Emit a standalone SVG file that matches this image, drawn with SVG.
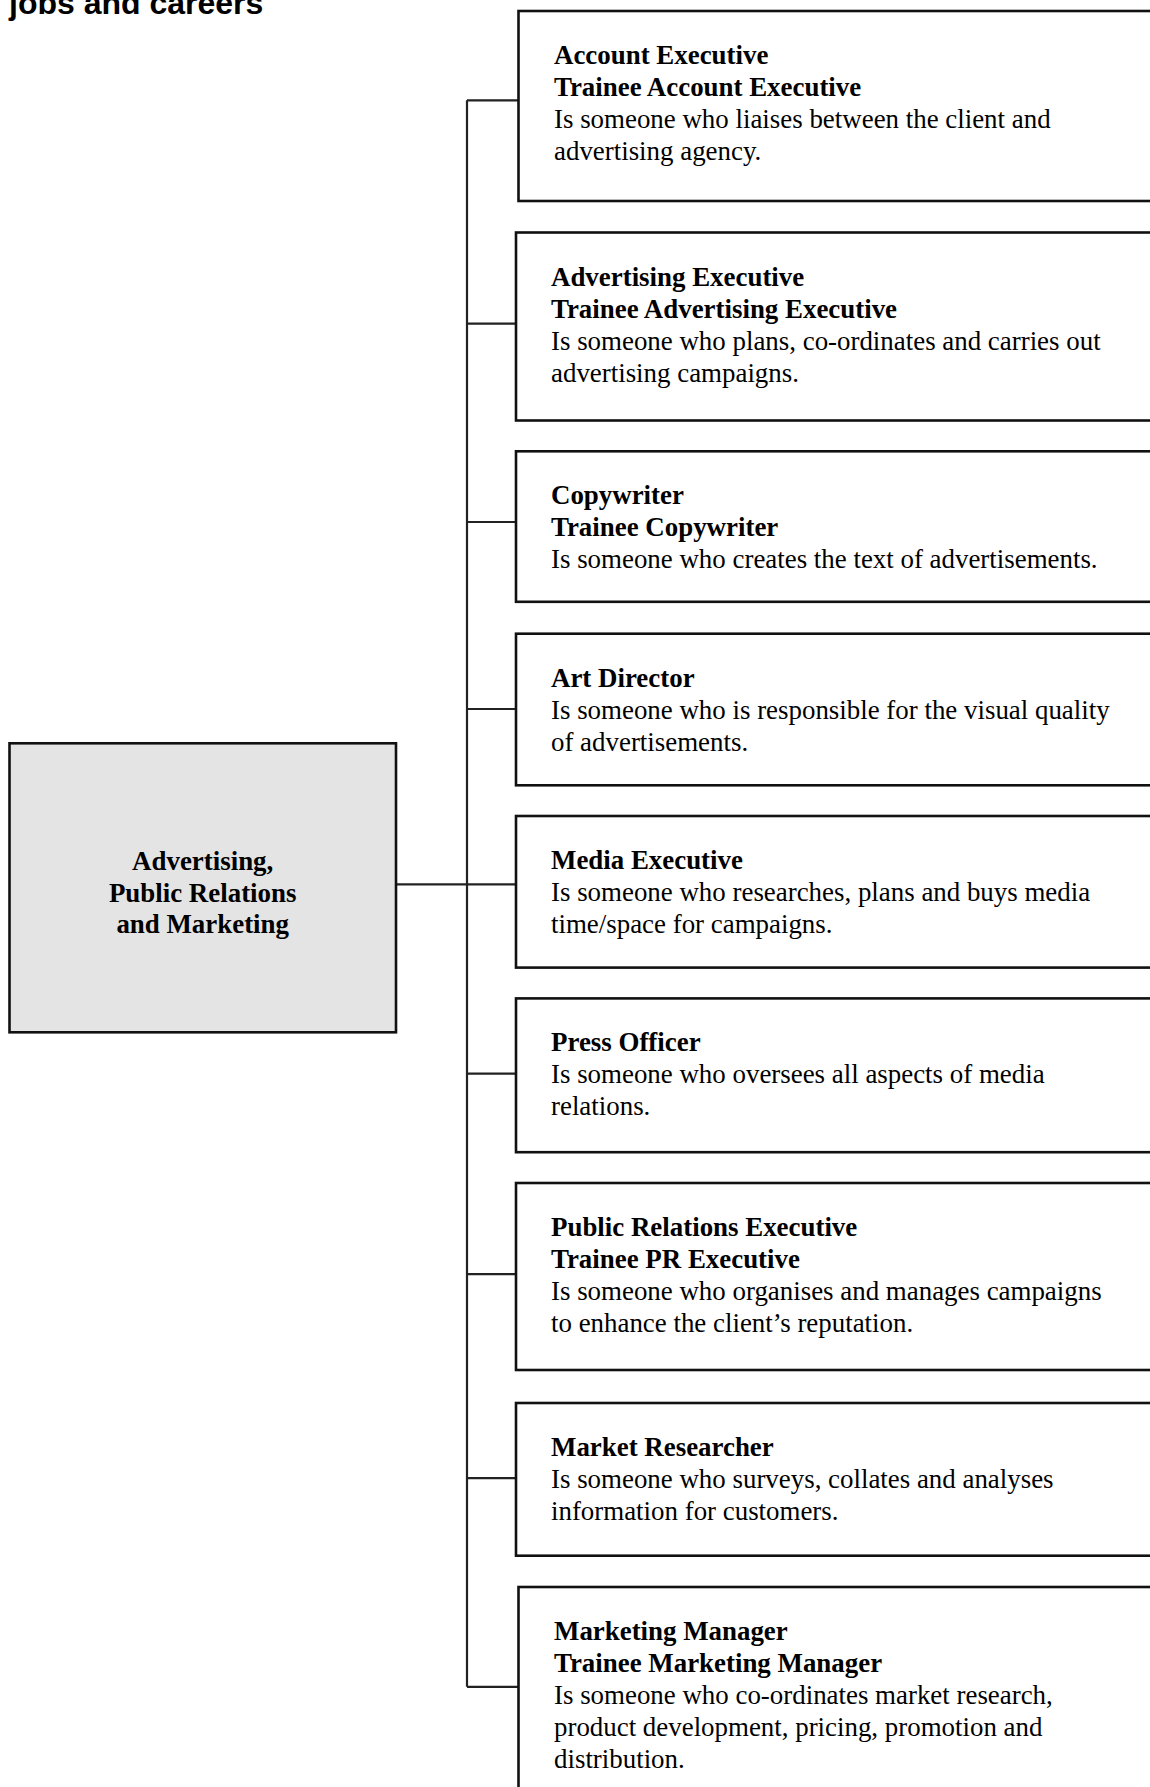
<svg xmlns="http://www.w3.org/2000/svg" width="1150" height="1787" viewBox="0 0 1150 1787">
<style>
.title{font-family:"Liberation Sans",Arial,sans-serif;font-weight:bold;font-size:32px;fill:#000}
.box{fill:#fff;stroke:#111;stroke-width:2.6}
.center{fill:#e4e4e4;stroke:#111;stroke-width:2.6}
.conn{fill:none;stroke:#222;stroke-width:2.2}
.t{font-family:"Liberation Serif","Times New Roman",serif;font-size:26.9px;fill:#000}
.b{font-weight:bold}
.c{text-anchor:middle}
</style>
<rect width="1150" height="1787" fill="#fff"/>
<text class="title" x="9" y="13.5">jobs and careers</text>
<g id="connectors">
<path class="conn" d="M396 884.3H516"/>
<path class="conn" d="M467 100.3V1686.8"/>
<path class="conn" d="M467 100.3H518.5M467 323.7H516M467 522H516M467 709H516M467 1073.6H516M467 1274.2H516M467 1478.2H516M467 1686.8H518.5"/>
</g>
<g id="center">
<rect class="center" x="9.5" y="743.3" width="386.5" height="289"/>
<text class="t b c" x="202.7" y="870">Advertising,</text>
<text class="t b c" x="202.7" y="901.7">Public Relations</text>
<text class="t b c" x="202.7" y="933.4">and Marketing</text>
</g>
<g id="account-executive">
<rect class="box" x="518.5" y="11" width="650" height="190"/>
<text class="t b" x="554" y="64">Account Executive</text>
<text class="t b" x="554" y="96">Trainee Account Executive</text>
<text class="t" x="554" y="128">Is someone who liaises between the client and</text>
<text class="t" x="554" y="160">advertising agency.</text>
</g>
<g id="advertising-executive">
<rect class="box" x="516" y="232.5" width="650" height="188"/>
<text class="t b" x="551" y="285.5">Advertising Executive</text>
<text class="t b" x="551" y="317.5">Trainee Advertising Executive</text>
<text class="t" x="551" y="349.5">Is someone who plans, co-ordinates and carries out</text>
<text class="t" x="551" y="381.5">advertising campaigns.</text>
</g>
<g id="copywriter">
<rect class="box" x="516" y="451.3" width="650" height="150.5"/>
<text class="t b" x="551" y="504.3">Copywriter</text>
<text class="t b" x="551" y="536.3">Trainee Copywriter</text>
<text class="t" x="551" y="568.3">Is someone who creates the text of advertisements.</text>
</g>
<g id="art-director">
<rect class="box" x="516" y="633.7" width="650" height="151.6"/>
<text class="t b" x="551" y="686.7">Art Director</text>
<text class="t" x="551" y="718.7">Is someone who is responsible for the visual quality</text>
<text class="t" x="551" y="750.7">of advertisements.</text>
</g>
<g id="media-executive">
<rect class="box" x="516" y="816" width="650" height="151.6"/>
<text class="t b" x="551" y="869">Media Executive</text>
<text class="t" x="551" y="901">Is someone who researches, plans and buys media</text>
<text class="t" x="551" y="933">time/space for campaigns.</text>
</g>
<g id="press-officer">
<rect class="box" x="516" y="998.4" width="650" height="153.8"/>
<text class="t b" x="551" y="1051.4">Press Officer</text>
<text class="t" x="551" y="1083.4">Is someone who oversees all aspects of media</text>
<text class="t" x="551" y="1115.4">relations.</text>
</g>
<g id="public-relations-executive">
<rect class="box" x="516" y="1183" width="650" height="187"/>
<text class="t b" x="551" y="1236">Public Relations Executive</text>
<text class="t b" x="551" y="1268">Trainee PR Executive</text>
<text class="t" x="551" y="1300">Is someone who organises and manages campaigns</text>
<text class="t" x="551" y="1332">to enhance the client’s reputation.</text>
</g>
<g id="market-researcher">
<rect class="box" x="516" y="1403" width="650" height="152.7"/>
<text class="t b" x="551" y="1456">Market Researcher</text>
<text class="t" x="551" y="1488">Is someone who surveys, collates and analyses</text>
<text class="t" x="551" y="1520">information for customers.</text>
</g>
<g id="marketing-manager">
<rect class="box" x="518.5" y="1587" width="650" height="260"/>
<text class="t b" x="554" y="1640">Marketing Manager</text>
<text class="t b" x="554" y="1672">Trainee Marketing Manager</text>
<text class="t" x="554" y="1704">Is someone who co-ordinates market research,</text>
<text class="t" x="554" y="1736">product development, pricing, promotion and</text>
<text class="t" x="554" y="1768">distribution.</text>
</g>
</svg>
